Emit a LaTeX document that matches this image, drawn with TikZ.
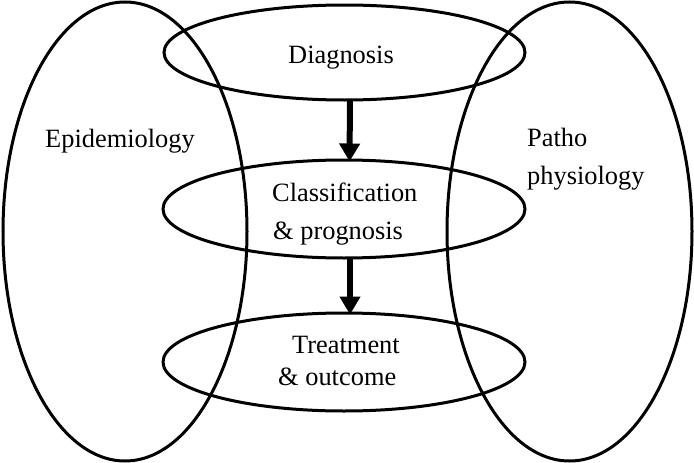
\documentclass[tikz,border=0pt]{standalone}
\usepackage{fontspec}
\setmainfont{Liberation Serif}
\usetikzlibrary{shapes.geometric,arrows.meta}
\begin{document}
\begin{tikzpicture}[x=1pt,y=-1pt,
  oval/.style={ellipse,draw,line width=3pt,inner sep=0pt,outer sep=0pt},
  lbl/.style={anchor=base west,inner sep=0pt,font=\fontsize{26.4}{30}\selectfont},
  bigarrow/.style={line width=6pt,-{Triangle[width=20pt,length=18pt]}}]
\useasboundingbox (0,0) rectangle (694,463);
\node[oval,minimum width=244pt,minimum height=459pt] (epi) at (125,231.5) {};
\node[oval,minimum width=245pt,minimum height=459pt] (patho) at (569.5,231.5) {};
\node[oval,minimum width=361pt,minimum height=95pt] (diag) at (344.5,52.5) {};
\node[oval,minimum width=362pt,minimum height=98pt] (class) at (344,209) {};
\node[oval,minimum width=362pt,minimum height=98pt] (treat) at (344,362) {};
\node[lbl] (tdiag) at (288,63) {Diagnosis};
\node[lbl] (tepi) at (45,147) {Epidemiology};
\node[lbl] (tpatho1) at (527,146) {Patho};
\node[lbl] (tpatho2) at (527,184) {physiology};
\node[lbl] (tclass1) at (272,201) {Classification};
\node[lbl] (tclass2) at (273,239) {\& prognosis};
\node[lbl] (ttreat1) at (292,353) {Treatment};
\node[lbl] (ttreat2) at (278,385) {\& outcome};
\draw[bigarrow] ([xshift=5.5pt]diag.south) -- ([xshift=5.5pt,yshift=-1.5pt]class.north);
\draw[bigarrow] ([xshift=6pt]class.south) -- ([xshift=6pt,yshift=-1.5pt]treat.north);
\end{tikzpicture}
\end{document}
